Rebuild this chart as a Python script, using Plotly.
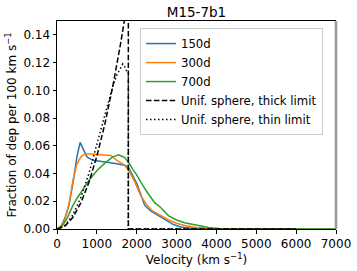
import plotly.graph_objects as go

# ---- data ----
v_150 = [0, 100, 200, 300, 400, 500, 580, 650, 750, 900, 1100, 1300, 1500, 1700, 1800, 1900,
         2000, 2100, 2200, 2350, 2500, 2700, 2900, 3100, 3300, 3500, 4000, 5000, 6000, 7000]
f_150 = [0, 0.002, 0.008, 0.017, 0.033, 0.052, 0.0625, 0.058, 0.052, 0.0495, 0.049, 0.048, 0.047,
         0.046, 0.044, 0.039, 0.033, 0.025, 0.017, 0.013, 0.0105, 0.0072, 0.0035, 0.0015, 0.0006,
         0.0002, 0, 0, 0, 0]

v_300 = [0, 100, 200, 300, 400, 500, 600, 700, 850, 1000, 1200, 1350, 1500, 1650, 1800, 1950,
         2100, 2250, 2400, 2600, 2800, 3000, 3200, 3500, 3800, 4000, 5000, 7000]
f_300 = [0, 0.002, 0.007, 0.018, 0.035, 0.047, 0.052, 0.054, 0.054, 0.0538, 0.0533, 0.053, 0.0495,
         0.047, 0.0425, 0.034, 0.024, 0.0175, 0.013, 0.0095, 0.0065, 0.0042, 0.0025, 0.001, 0.0003,
         0, 0, 0]

v_700 = [0, 100, 250, 400, 500, 650, 800, 1000, 1200, 1400, 1550, 1700, 1800, 1900, 2000, 2100,
         2250, 2450, 2600, 2800, 3000, 3200, 3500, 3800, 4100, 5000, 7000]
f_700 = [0, 0.0008, 0.0075, 0.017, 0.022, 0.029, 0.035, 0.042, 0.0475, 0.052, 0.0535, 0.0515, 0.048,
         0.043, 0.039, 0.034, 0.027, 0.019, 0.0155, 0.0095, 0.0065, 0.0045, 0.0025, 0.001, 0.0002,
         0, 0]

v_thick = [0, 200, 400, 600, 800, 1000, 1200, 1400, 1600, 1700, 1790, 1790, 6000]
f_thick = [0, 0.0021, 0.0084, 0.0189, 0.0336, 0.0525, 0.0756, 0.1029, 0.1344, 0.1517, 0.168, 0, 0]

v_thin = [0, 200, 400, 600, 800, 1000, 1200, 1300, 1400, 1500, 1600, 1650, 1700, 1760, 1790, 1790, 6000]
f_thin = [0, 0.0026, 0.0103, 0.0228, 0.040, 0.061, 0.083, 0.094, 0.103, 0.111, 0.117, 0.119, 0.117,
          0.113, 0.113, 0, 0]

names = ["150d", "300d", "700d", "Unif. sphere, thick limit", "Unif. sphere, thin limit"]
colors = ["#1f77b4", "#ff7f0e", "#2ca02c", "black", "black"]
dashes = ["solid", "solid", "solid", "5.5px,2.4px", "1.5px,2.5px"]
x_ticks = [0, 1000, 2000, 3000, 4000, 5000, 6000, 7000]
y_ticks = [0.00, 0.02, 0.04, 0.06, 0.08, 0.10, 0.12, 0.14]

FONT = "DejaVu Sans"
FS = 12

fig = go.Figure()
series = [(v_150, f_150), (v_300, f_300), (v_700, f_700), (v_thick, f_thick), (v_thin, f_thin)]
for (xv, yv), n, c, d in zip(series, names, colors, dashes):
    fig.add_trace(go.Scatter(x=xv, y=yv, mode="lines", name=n,
                             line=dict(color=c, width=1.5, dash=d)))

fig.update_layout(
    width=357, height=271,
    margin=dict(l=57, r=21, t=21, b=42, autoexpand=False),
    paper_bgcolor="white", plot_bgcolor="white",
    font=dict(family=FONT, size=FS, color="black"),
    title=dict(text="M15-7b1", x=0.5, xref="paper", xanchor="center",
               y=1 - 12 / 271, yref="container", yanchor="middle",
               font=dict(family=FONT, size=13.5, color="black")),
    showlegend=True,
    legend=dict(x=0.2975, y=0.966, xanchor="left", yanchor="top",
                bgcolor="rgba(255,255,255,0.8)", bordercolor="#cccccc", borderwidth=1,
                font=dict(family=FONT, size=11.7, color="black"),
                itemwidth=30, tracegroupgap=0),
    xaxis=dict(range=[0, 7000], tickvals=x_ticks, ticktext=[str(t) for t in x_ticks],
               automargin=False,
               showgrid=False, zeroline=False, showline=True, linecolor="black", linewidth=1,
               mirror=True, ticks="outside", ticklen=3.5, tickcolor="black",
               title=dict(text="Velocity (km s<sup>−1</sup>)", standoff=4,
                          font=dict(family=FONT, size=FS))),
    yaxis=dict(range=[0, 0.15], tickvals=y_ticks, ticktext=["%.2f" % t for t in y_ticks],
               automargin=False,
               showgrid=False, zeroline=False, showline=True, linecolor="black", linewidth=1,
               mirror=False, ticks="outside", ticklen=3.5, tickcolor="black",
               title=dict(text="Fraction of dep per 100 km s<sup>−1</sup>", standoff=4,
                          font=dict(family=FONT, size=FS))),
    shapes=[dict(type="line", xref="paper", yref="paper", x0=1, x1=1, y0=0, y1=1,
                 line=dict(color="#999999", width=2.5))],
)

fig.write_html("out.html",
               config={"displayModeBar": False},
               post_script="document.body.style.margin='0';document.body.style.overflow='hidden';")
